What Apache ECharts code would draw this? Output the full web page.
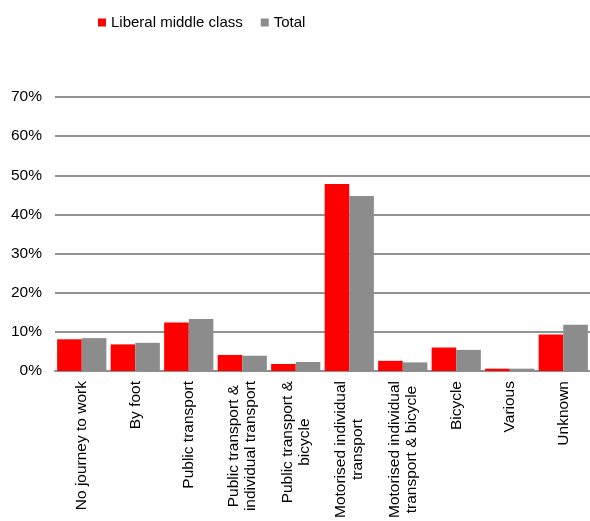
<!DOCTYPE html>
<html>
<head>
<meta charset="utf-8">
<script src="https://cdn.jsdelivr.net/npm/echarts@6/dist/echarts.min.js"></script>
<style>
  html, body { margin: 0; padding: 0; background: #fff; }
  #chart { width: 590px; height: 521px; }
</style>
</head>
<body>
<div id="chart"></div>
<script>
const categories = [
  'No journey to work',
  'By foot',
  'Public transport',
  'Public transport &\nindividual transport',
  'Public transport &\nbicycle',
  'Motorised individual\ntransport',
  'Motorised individual\ntransport & bicycle',
  'Bicycle',
  'Various',
  'Unknown'
]
const liberalMiddleClass = [8.1, 6.8, 12.4, 4.1, 1.8, 47.8, 2.6, 6.0, 0.6, 9.3]
const total = [8.4, 7.2, 13.3, 3.9, 2.3, 44.7, 2.2, 5.4, 0.6, 11.8]
const yTicks = { min: 0, max: 70, interval: 10 }

const chart = echarts.init(document.getElementById('chart'))
const font = 'Liberation Sans, Arial, sans-serif'

chart.setOption({
  animation: false,
  legend: {
    left: 93,
    top: 10,
    itemWidth: 8,
    itemHeight: 8,
    itemGap: 18,
    icon: 'rect',
    textStyle: { fontFamily: font, fontSize: 15, color: '#000' },
    data: ['Liberal middle class', 'Total']
  },
  grid: { left: 55, right: 0, top: 97, bottom: 149 },
  xAxis: {
    type: 'category',
    data: categories,
    axisTick: { show: false },
    axisLine: { lineStyle: { color: '#909090', width: 2 } },
    axisLabel: {
      rotate: 90,
      interval: 0,
      margin: 10,
      fontFamily: font,
      fontSize: 15.5,
      color: '#000',
      // centre each line of a wrapped label
      formatter: (v) => v.split('\n').map(s => '{c|' + s + '}').join('\n'),
      rich: {
        c: { align: 'center', fontFamily: font, fontSize: 15.5, lineHeight: 17, color: '#000' }
      }
    }
  },
  yAxis: {
    type: 'value',
    min: yTicks.min,
    max: yTicks.max,
    interval: yTicks.interval,
    axisLine: { show: false },
    axisTick: { show: false },
    axisLabel: {
      margin: 13,
      fontFamily: font,
      fontSize: 15.5,
      color: '#000',
      formatter: '{value}%'
    },
    splitLine: { lineStyle: { color: '#939393', width: 2 } }
  },
  series: [
    {
      name: 'Liberal middle class',
      type: 'bar',
      data: liberalMiddleClass,
      barGap: '0%',
      barCategoryGap: '8%',
      itemStyle: { color: '#ff0000' }
    },
    {
      name: 'Total',
      type: 'bar',
      data: total,
      barGap: '0%',
      barCategoryGap: '8%',
      itemStyle: { color: '#8c8c8c' }
    }
  ]
})
</script>
</body>
</html>
